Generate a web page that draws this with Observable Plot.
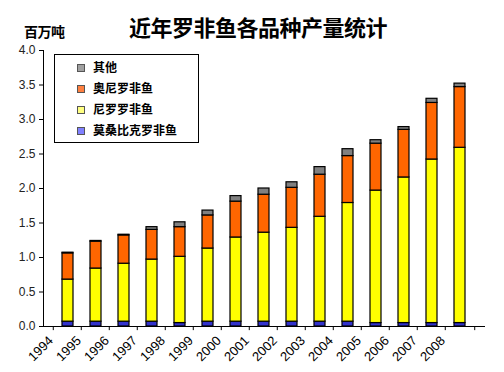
<!DOCTYPE html>
<html><head><meta charset="utf-8">
<script src="https://cdn.jsdelivr.net/npm/d3@7"></script>
<script src="https://cdn.jsdelivr.net/npm/@observablehq/plot@0.6"></script>
<style>
html,body{margin:0;padding:0;background:#fff}
body{width:504px;height:372px;overflow:hidden;font-family:"Liberation Sans",Arial,sans-serif}
#wrap{position:relative;width:504px;height:372px}
#header{position:relative;height:40px}
#title{position:absolute;left:6px;width:504px;top:11px;text-align:center;font-family:"Noto Sans CJK SC",sans-serif;font-size:22px;font-weight:600;color:#000;line-height:30px;letter-spacing:-0.5px}
#unit{position:absolute;left:24px;top:22px;font-family:"Noto Sans CJK SC",sans-serif;font-size:14px;font-weight:700;color:#000;line-height:18px;letter-spacing:-0.5px}
#legend{position:absolute;left:54px;top:54px;width:143px;height:87px;border:1px solid #000;background:#fff}
.row{position:absolute;left:0;height:18px;line-height:18px;font-family:"Noto Sans CJK SC",sans-serif;font-size:12px;font-weight:700;color:#000}
.sw{position:absolute;left:22px;top:6px;width:6px;height:6px;border:1px solid #555}
.lb{position:absolute;left:38px;top:0;white-space:nowrap}
</style></head><body>
<div id="wrap">
  <div id="header">
    <div id="title">近年罗非鱼各品种产量统计</div>
    <div id="unit">百万吨</div>
  </div>
  <div id="chart"></div>
  <div id="legend"></div>
</div>
<script>
const years = ["1994","1995","1996","1997","1998","1999","2000","2001","2002","2003","2004","2005","2006","2007","2008"];
const seriesNames = ["莫桑比克罗非鱼","尼罗罗非鱼","奥尼罗非鱼","其他"];
const mozambique = [0.07,0.07,0.07,0.07,0.05,0.07,0.07,0.07,0.07,0.07,0.07,0.05,0.05,0.05,0.05];
const nile       = [0.61,0.77,0.84,0.90,0.96,1.06,1.22,1.29,1.36,1.52,1.72,1.92,2.11,2.37,2.54];
const hybrid     = [0.38,0.39,0.41,0.43,0.43,0.48,0.52,0.55,0.58,0.61,0.68,0.68,0.69,0.82,0.88];
const other      = [0.01,0.01,0.01,0.04,0.07,0.07,0.08,0.09,0.08,0.11,0.10,0.05,0.04,0.06,0.05];
const yTicks = [0,0.5,1,1.5,2,2.5,3,3.5,4];
const barColors = ["#3333CC","#FFFF00","#FF6600","#808080"];
const swatchColors = ["#8080FF","#FFFF80","#FF8040","#A0A0A0"];

const seriesValues = [mozambique, nile, hybrid, other];
const rows = [];
years.forEach((yr, i) => {
  seriesNames.forEach((s, k) => rows.push({year: yr, series: s, value: seriesValues[k][i]}));
});

const W = 504, H = 332, ML = 43, MR = 19, MT = 10, MB = 46;
const step = (W - ML - MR) / years.length;

const chart = Plot.plot({
  width: W, height: H,
  marginLeft: ML, marginRight: MR, marginTop: MT, marginBottom: MB,
  style: {background: "#fff", fontFamily: "'Liberation Sans', Arial, sans-serif", fontSize: "12px", color: "#000"},
  x: {domain: years, padding: 0.6, align: 0.5, axis: null},
  y: {domain: [0, 4], axis: null},
  color: {domain: seriesNames, range: barColors},
  marks: [
    Plot.barY(rows, {x: "year", y: "value", fill: "series", stroke: "#000", strokeWidth: 1.2, order: seriesNames}),
    Plot.axisY({ticks: yTicks, tickFormat: d3.format(".1f"), tickSize: 4, tickPadding: 4, label: null, fontSize: 12, fill: "#222"}),
    Plot.frame({anchor: "left", stroke: "#000"}),
    Plot.ruleY([0], {stroke: "#000"}),
    Plot.ruleX(years, {x: d => d, y1: 0, y2: -0.06, dx: -step / 2, stroke: "#000"}),
    Plot.ruleX([years[years.length - 1]], {x: d => d, y1: 0, y2: -0.06, dx: step / 2, stroke: "#000"}),
    Plot.text(years, {x: d => d, y: 0, text: d => d, rotate: -45, textAnchor: "end", dx: -17, dy: 12, fontSize: 13, fill: "#000"})
  ]
});
document.getElementById("chart").appendChild(chart);

const legend = document.getElementById("legend");
const tops = [3, 24, 45, 66];
[3, 2, 1, 0].forEach((k, j) => {
  const r = document.createElement("div");
  r.className = "row";
  r.style.top = tops[j] + "px";
  r.innerHTML = `<span class="sw" style="background:${swatchColors[k]}"></span><span class="lb">${seriesNames[k]}</span>`;
  legend.appendChild(r);
});
</script>
</body></html>
